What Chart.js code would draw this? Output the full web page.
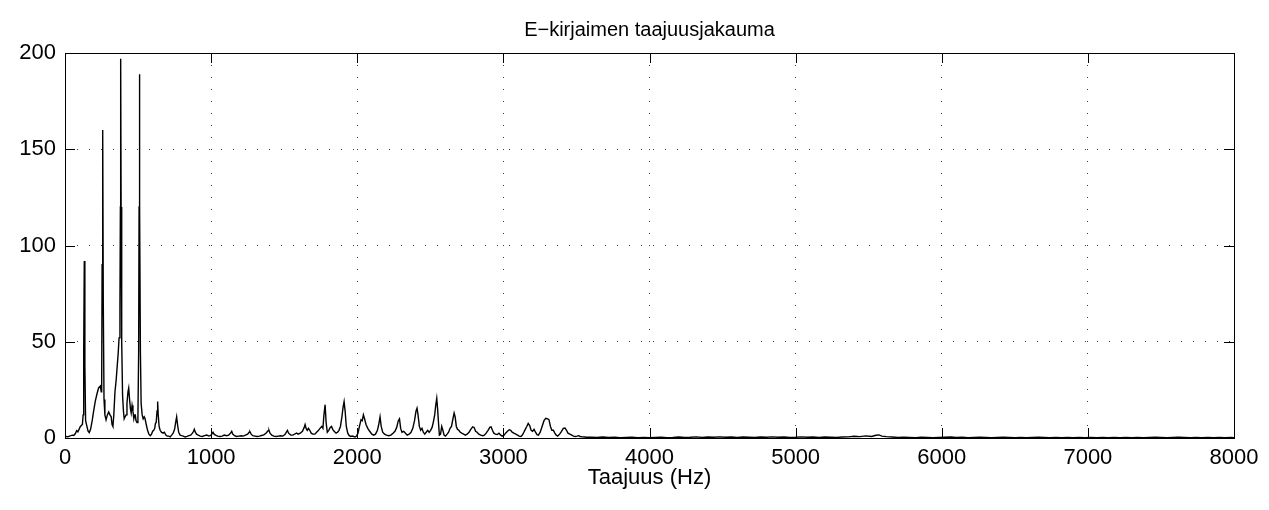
<!DOCTYPE html>
<html lang="fi">
<head>
    <meta charset="UTF-8">
    <title>E-kirjaimen taajuusjakauma</title>
    <script src="https://cdn.jsdelivr.net/npm/chart.js"></script>
    <style>
        html, body { margin: 0; padding: 0; background: #fff; }
        #wrap { width: 1269px; height: 510px; }
    </style>
</head>
<body>
    <div id="wrap"><canvas id="spectrum"></canvas></div>

    <script>
        const chartTitle = 'E−kirjaimen taajuusjakauma';
        const xLabel = 'Taajuus (Hz)';
        const xTicks = [0, 1000, 2000, 3000, 4000, 5000, 6000, 7000, 8000];
        const yTicks = [0, 50, 100, 150, 200];

        // frequency (Hz) and magnitude
        const freqHz = [
            0, 10, 20, 30, 40, 50, 60, 70, 80, 88, 96, 105, 112, 119, 124, 128, 132, 136, 141, 150,
            158, 166, 175, 186, 196, 207, 219, 230, 242, 248, 251, 254, 258, 262, 267, 273, 281, 290, 299, 308,
            316, 322, 328, 334, 342, 350, 358, 364, 370, 376, 379, 381, 384, 388, 394, 400, 405, 411, 418, 424,
            431, 436, 442, 448, 453, 459, 465, 471, 477, 481, 486, 493, 499, 504, 507, 509, 512, 516, 521, 528,
            535, 542, 548, 556, 565, 574, 584, 592, 600, 607, 614, 619, 624, 630, 634, 638, 644, 651, 660, 671,
            680, 690, 700, 710, 720, 730, 740, 750, 757, 764, 770, 778, 788, 798, 810, 822, 835, 848, 860, 872,
            880, 885, 892, 900, 912, 925, 940, 955, 970, 985, 1000, 1008, 1013, 1020, 1030, 1045, 1060, 1075, 1090, 1105,
            1120, 1133, 1141, 1148, 1160, 1175, 1190, 1205, 1220, 1235, 1250, 1260, 1266, 1274, 1285, 1300, 1315, 1330, 1345, 1360,
            1375, 1390, 1396, 1403, 1415, 1430, 1445, 1460, 1475, 1490, 1505, 1515, 1522, 1530, 1545, 1560, 1575, 1585, 1595, 1610,
            1625, 1637, 1643, 1650, 1658, 1666, 1675, 1685, 1695, 1710, 1722, 1735, 1745, 1757, 1765, 1772, 1780, 1787, 1795, 1805,
            1815, 1824, 1832, 1842, 1855, 1865, 1875, 1885, 1895, 1903, 1910, 1917, 1925, 1935, 1945, 1955, 1965, 1975, 1985, 1995,
            2005, 2015, 2026, 2034, 2042, 2050, 2060, 2072, 2085, 2100, 2112, 2125, 2138, 2147, 2156, 2164, 2174, 2187, 2200, 2215,
            2230, 2245, 2258, 2270, 2281, 2289, 2297, 2306, 2318, 2330, 2342, 2355, 2368, 2380, 2392, 2402, 2409, 2416, 2425, 2434,
            2443, 2452, 2462, 2472, 2482, 2492, 2502, 2512, 2520, 2530, 2537, 2544, 2550, 2556, 2562, 2570, 2578, 2586, 2594, 2604,
            2615, 2625, 2635, 2645, 2655, 2663, 2670, 2678, 2686, 2695, 2705, 2715, 2728, 2740, 2752, 2765, 2777, 2790, 2800, 2810,
            2820, 2832, 2845, 2858, 2870, 2882, 2895, 2907, 2916, 2925, 2935, 2945, 2958, 2970, 2982, 2992, 3005, 3015, 3028, 3040,
            3050, 3060, 3072, 3085, 3097, 3108, 3120, 3130, 3140, 3150, 3160, 3170, 3180, 3190, 3200, 3210, 3220, 3230, 3240, 3252,
            3265, 3278, 3290, 3300, 3312, 3322, 3332, 3342, 3352, 3362, 3372, 3385, 3398, 3410, 3422, 3432, 3442, 3455, 3468, 3480,
            3492, 3505, 3515, 3525, 3540, 3555, 3570,
            3600, 3640, 3680, 3720, 3760, 3800, 3840, 3880, 3920, 3960, 4000, 4040, 4080, 4120, 4160, 4200, 4240, 4280, 4320, 4360,
            4400, 4440, 4480, 4520, 4560, 4600, 4640, 4680, 4720, 4760, 4800, 4840, 4880, 4920, 4960, 5000, 5040, 5080, 5120, 5160,
            5200, 5240, 5280, 5320, 5360, 5400, 5440, 5480, 5520, 5550, 5570, 5590, 5620, 5660, 5700, 5740, 5780, 5820, 5860, 5900,
            5940, 5980, 6020, 6060, 6100, 6140, 6180, 6220, 6260, 6300, 6340, 6380, 6420, 6460, 6500, 6540, 6580, 6620, 6660, 6700,
            6740, 6780, 6820, 6860, 6900, 6940, 6980, 7020, 7060, 7100, 7140, 7180, 7220, 7260, 7300, 7340, 7380, 7420, 7460, 7500,
            7540, 7580, 7620, 7660, 7700, 7740, 7780, 7820, 7860, 7900, 7940, 7980, 8000
        ];
        const magnitude = [
            0.5, 0.8, 0.6, 1.0, 1.2, 1.5, 1.3, 2.2, 3.8, 3.2, 4.5, 6, 6.5, 7, 12, 45, 92, 38, 9, 6,
            3.5, 2.8, 4.5, 9, 14, 19, 23, 26, 27, 24, 26, 90, 160, 70, 20, 12, 9.4, 12, 13.5, 12,
            11, 7, 6, 12, 24, 30, 38, 44, 52, 68, 120, 197, 120, 50, 22, 14, 10, 11, 12, 18,
            24, 26, 20, 15, 13, 17, 14, 10, 12, 12, 9, 8, 10, 45, 120, 189, 120, 45, 18, 12,
            10, 11, 10, 7, 4, 2, 1.2, 2, 3.5, 4, 5, 7.6, 8, 14, 19, 12, 6, 4, 3, 2.5,
            3, 1.5, 1, 1, 0.6, 1.5, 2.5, 4.5, 8, 11, 7, 3, 1.5, 1.2, 1, 0.5, 0.8, 1.2, 1.5, 2.5,
            3.5, 4.5, 3, 2, 1.5, 1, 0.8, 1.2, 1.5, 1, 1.5, 2.5, 3, 2, 1.5, 1, 0.8, 1, 1.5, 1.2,
            1.5, 2.5, 3.5, 2, 1.2, 0.8, 1, 1.2, 1, 1.5, 2, 3, 3.2, 2, 1.2, 1, 0.8, 1, 1.3, 1.6,
            2.5, 3.8, 4, 2.5, 1.5, 1, 0.8, 1, 1.2, 1, 1.8, 3, 4, 2.5, 1.5, 1.5, 2.2, 2.6, 2, 2.5,
            3.5, 5.5, 7, 5, 4, 5, 4, 2.5, 2, 2, 3, 4, 5, 6, 5, 12, 17.3, 8, 3, 4,
            5.5, 6, 4.5, 3.5, 2.5, 3, 4, 6, 11, 16, 18.9, 14, 6, 2.5, 1.2, 0.8, 1, 0.8, 0.5, 1,
            2.5, 6, 9.5, 9, 12, 10, 7, 5, 3.5, 2, 1.5, 2, 4, 7, 11, 6, 3, 2, 1.5, 1.2,
            1.5, 2.5, 3.5, 5.5, 9, 10, 5, 3, 3.5, 2.5, 1.5, 2, 3, 5, 9, 14, 15.5, 12, 6, 4,
            5, 3, 2, 3, 4, 3, 4, 5.5, 8, 12, 17, 20.6, 15, 8, 1.5, 2, 6, 4, 1.5, 1,
            2, 3, 5, 6, 10, 13, 11, 6, 4.5, 4, 3, 2.5, 2, 1.5, 2, 3, 4.5, 5.8, 5.5, 3.5,
            3, 2, 1.5, 1.2, 1.5, 2.5, 4, 5.5, 5.8, 4, 2.5, 2, 1.8, 2.5, 1.5, 1, 1.5, 2.5, 3.5, 4.3,
            4, 3, 2.5, 2, 1.5, 1, 0.8, 1.5, 3, 4.5, 6, 7.6, 6.5, 4, 3.5, 4.5, 3, 1.7, 1.5, 3,
            6, 9, 10.2, 10, 9.5, 6, 4, 4, 2.5, 1.5, 1, 2, 3.5, 5, 5.2, 4, 2.5, 2, 1.5, 1,
            0.8, 1, 1.2, 0.8, 0.6, 0.5, 0.4,
            0.4, 0.3, 0.5, 0.3, 0.4, 0.2, 0.3, 0.4, 0.2, 0.3, 0.2, 0.3, 0.4, 0.2, 0.3, 0.5, 0.3, 0.4, 0.6, 0.3,
            0.5, 0.4, 0.6, 0.4, 0.5, 0.3, 0.5, 0.4, 0.3, 0.5, 0.4, 0.6, 0.4, 0.5, 0.3, 0.4, 0.6, 0.4, 0.5, 0.3,
            0.5, 0.4, 0.3, 0.5, 0.6, 0.9, 0.7, 1.1, 0.8, 1.4, 1.6, 1.0, 0.7, 0.5, 0.3, 0.4, 0.3, 0.2, 0.4, 0.3,
            0.2, 0.3, 0.4, 0.5, 0.3, 0.4, 0.2, 0.3, 0.4, 0.3, 0.2, 0.3, 0.4, 0.3, 0.2, 0.3, 0.2, 0.3, 0.4, 0.3,
            0.2, 0.3, 0.2, 0.3, 0.2, 0.3, 0.2, 0.3, 0.2, 0.3, 0.2, 0.3, 0.2, 0.3, 0.2, 0.3, 0.2, 0.3, 0.4, 0.3,
            0.2, 0.3, 0.4, 0.3, 0.2, 0.3, 0.2, 0.3, 0.2, 0.3, 0.2, 0.3, 0.2
        ];

        const points = freqHz.map((f, i) => ({ x: f, y: magnitude[i] }));

        // matlab style box with inward ticks on all four sides
        const boxTicks = {
            id: 'boxTicks',
            afterDraw(chart) {
                const ctx = chart.ctx;
                const a = chart.chartArea;
                const xs = chart.scales.x, ys = chart.scales.y;
                const len = 10;
                ctx.save();
                ctx.strokeStyle = '#000';
                ctx.lineWidth = 1;
                ctx.beginPath();
                xTicks.forEach(v => {
                    const px = Math.round(xs.getPixelForValue(v)) + 0.5;
                    ctx.moveTo(px, a.bottom); ctx.lineTo(px, a.bottom - len);
                    ctx.moveTo(px, a.top); ctx.lineTo(px, a.top + len);
                });
                yTicks.forEach(v => {
                    const py = Math.round(ys.getPixelForValue(v)) + 0.5;
                    ctx.moveTo(a.left, py); ctx.lineTo(a.left + len, py);
                    ctx.moveTo(a.right, py); ctx.lineTo(a.right - len, py);
                });
                ctx.stroke();
                ctx.strokeRect(Math.round(a.left) + 0.5, Math.round(a.top) + 0.5,
                    Math.round(a.right - a.left), Math.round(a.bottom - a.top));
                ctx.restore();
            }
        };

        const fontFam = '"Liberation Sans", Arial, Helvetica, sans-serif';

        new Chart(document.getElementById('spectrum'), {
            type: 'line',
            data: {
                datasets: [{
                    data: points,
                    borderColor: '#000',
                    borderWidth: 1.4,
                    pointRadius: 0,
                    tension: 0,
                    fill: false
                }]
            },
            options: {
                responsive: true,
                maintainAspectRatio: false,
                animation: false,
                parsing: false,
                layout: { padding: { left: 0, right: 35, top: 0, bottom: 19 } },
                plugins: {
                    legend: { display: false },
                    tooltip: { enabled: false },
                    title: {
                        display: true,
                        fullSize: false,
                        text: chartTitle,
                        color: '#000',
                        font: { family: fontFam, size: 20, weight: 'normal', lineHeight: 1.2 },
                        padding: { top: 18, bottom: 11 }
                    }
                },
                scales: {
                    x: {
                        type: 'linear',
                        min: 0,
                        max: 8000,
                        afterBuildTicks: s => { s.ticks = xTicks.map(v => ({ value: v })); },
                        afterFit: s => { s.height = 53; },
                        ticks: {
                            color: '#000',
                            padding: 7,
                            maxRotation: 0,
                            callback: v => String(v),
                            font: { family: fontFam, size: 22 }
                        },
                        grid: {
                            color: 'rgba(0,0,0,0.75)',
                            drawTicks: false
                        },
                        border: { display: false, dash: [1, 11] },
                        title: {
                            display: true,
                            text: xLabel,
                            color: '#000',
                            font: { family: fontFam, size: 22 },
                            padding: { top: 0, bottom: 0 }
                        }
                    },
                    y: {
                        min: 0,
                        max: 200,
                        afterBuildTicks: s => { s.ticks = yTicks.map(v => ({ value: v })); },
                        afterFit: s => { s.width = 65; },
                        ticks: {
                            color: '#000',
                            padding: 9,
                            callback: v => String(v),
                            font: { family: fontFam, size: 22 }
                        },
                        grid: {
                            color: 'rgba(0,0,0,0.75)',
                            drawTicks: false
                        },
                        border: { display: false, dash: [1, 11] }
                    }
                }
            },
            plugins: [boxTicks]
        });
    </script>
</body>
</html>
